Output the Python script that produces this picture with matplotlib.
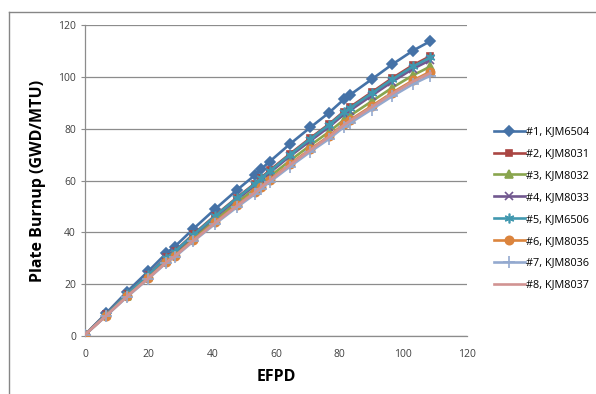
import matplotlib.pyplot as plt
from matplotlib.lines import Line2D

# EFPD values shared by every plate
efpd = [0, 6.6, 13.2, 19.9, 25.6, 28.2, 34.0, 40.8, 47.6, 53.3, 55.2, 58.0,
        64.3, 70.8, 76.7, 81.3, 83.2, 90.0, 96.5, 103.0, 108.5]

p1 = [0.5, 8.7, 17.1, 25.0, 32.0, 34.5, 41.3, 48.9, 56.2, 62.0, 64.3, 67.3,
      74.0, 80.5, 86.2, 91.3, 93.0, 99.0, 104.8, 110.1, 113.8]
p2 = [0.5, 8.3, 16.2, 23.7, 30.4, 32.7, 39.2, 46.4, 53.3, 58.8, 61.0, 63.9,
      70.2, 76.4, 81.8, 86.6, 88.3, 94.0, 99.5, 104.5, 108.0]
p3 = [0.5, 8.0, 15.6, 22.9, 29.2, 31.5, 37.7, 44.7, 51.4, 56.7, 58.8, 61.5,
      67.6, 73.6, 78.8, 83.4, 85.0, 90.5, 95.8, 100.6, 104.0]
p4 = [0.5, 8.1, 16.0, 23.4, 30.0, 32.3, 38.7, 45.8, 52.6, 58.0, 60.2, 63.0,
      69.3, 75.3, 80.7, 85.5, 87.0, 92.7, 98.1, 103.1, 106.5]
p5 = [0.5, 8.2, 16.2, 23.6, 30.2, 32.6, 39.0, 46.2, 53.1, 58.6, 60.8, 63.6,
      69.9, 76.1, 81.5, 86.3, 87.9, 93.6, 99.0, 104.0, 107.5]
p6 = [0.5, 7.8, 15.3, 22.4, 28.7, 30.9, 37.0, 43.8, 50.4, 55.6, 57.6, 60.3,
      66.3, 72.1, 77.2, 81.8, 83.3, 88.7, 93.9, 98.6, 102.0]
p7 = [0.5, 7.7, 15.1, 22.1, 28.3, 30.5, 36.5, 43.2, 49.6, 54.7, 56.8, 59.4,
      65.3, 71.1, 76.1, 80.6, 82.1, 87.4, 92.5, 97.2, 100.5]
p8 = [0.5, 7.8, 15.3, 22.3, 28.5, 30.8, 36.8, 43.6, 50.1, 55.3, 57.4, 60.0,
      66.0, 71.8, 76.9, 81.4, 83.0, 88.3, 93.5, 98.2, 101.5]

labels = ["#1, KJM6504", "#2, KJM8031", "#3, KJM8032", "#4, KJM8033",
          "#5, KJM6506", "#6, KJM8035", "#7, KJM8036", "#8, KJM8037"]
xticks = [0, 20, 40, 60, 80, 100, 120]
yticks = [0, 20, 40, 60, 80, 100, 120]

plt.rcParams['font.family'] = ['Open Sans', 'DejaVu Sans']

colors = ['#4572A7', '#AA4643', '#89A54E', '#71588F',
          '#4198AF', '#DB843D', '#93A9CF', '#D19392']
markers = ['D', 's', '^', 'x', (6, 2, 0), 'o', '+', None]
msizes = [5, 5, 6, 6, 7, 6, 8, 0]

fig = plt.figure(figsize=(5.96, 3.94), dpi=100)
ax = fig.add_axes([0.1426, 0.1472, 0.641, 0.7893])

series = [p1, p2, p3, p4, p5, p6, p7, p8]
for i, ys in enumerate(series):
    ax.plot(efpd, ys, color=colors[i], lw=1.9, marker=markers[i],
            ms=msizes[i], mew=1.2, label=labels[i], zorder=3 + i * 0.01)

ax.set_xlim(0, 120)
ax.set_ylim(0, 120)
ax.set_xticks(xticks)
ax.set_yticks(yticks)
ax.grid(axis='y', color='#8c8c8c', lw=0.9)
ax.set_axisbelow(True)
for s in ['top', 'right']:
    ax.spines[s].set_visible(False)
for s in ['left', 'bottom']:
    ax.spines[s].set_color('#8c8c8c')
    ax.spines[s].set_linewidth(0.9)
ax.tick_params(axis='both', colors='#8c8c8c', labelcolor='#404040',
               labelsize=7.5, length=3)
ax.tick_params(axis='x', length=0, pad=9)

ax.set_xlabel("EFPD", fontsize=11.5, fontweight='bold', labelpad=7)
ax.set_ylabel("Plate Burnup (GWD/MTU)", fontsize=11.5, fontweight='bold',
              labelpad=9)

leg = fig.legend(loc='upper left', bbox_to_anchor=(0.822, 0.69),
                 frameon=False, fontsize=7.8, handlelength=2.8,
                 handletextpad=0.15, labelspacing=1.0, borderaxespad=0)

# outer chart border (left and top edges)
fig.add_artist(Line2D([9 / 596, 9 / 596], [0, 1 - 12 / 394],
                      transform=fig.transFigure, color='#868686', lw=1))
fig.add_artist(Line2D([9 / 596, 1], [1 - 12 / 394, 1 - 12 / 394],
                      transform=fig.transFigure, color='#868686', lw=1))

fig.savefig("out.png", dpi=100)
